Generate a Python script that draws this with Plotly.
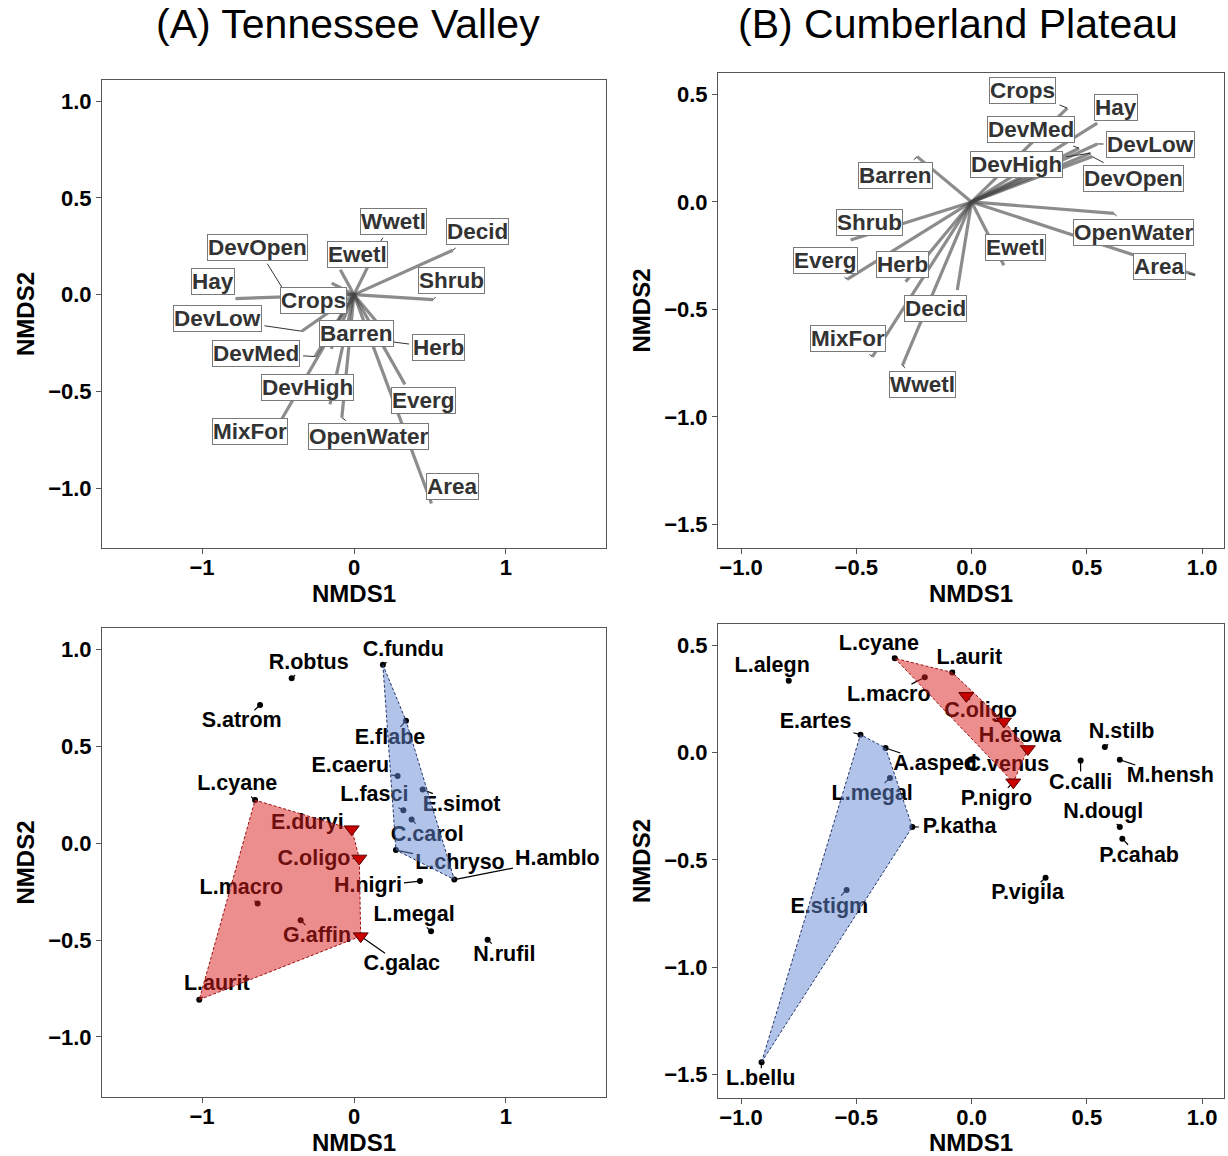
import plotly.graph_objects as go

FIG_W, FIG_H = 1228, 1156
FONT = "Liberation Sans, Arial, Helvetica, sans-serif"

# ---------------- DATA ----------------
# (A) Tennessee Valley - environmental vectors (endpoint) and label positions
envA_names = ["Decid", "Shrub", "Wwetl", "Ewetl", "DevOpen", "Hay", "Crops", "DevLow",
              "Barren", "Herb", "DevMed", "DevHigh", "MixFor", "OpenWater", "Everg", "Area"]
envA_x = [0.65, 0.52, 0.17, -0.09, -0.465, -0.78, -0.147, -0.344,
          -0.15, 0.26, -0.257, -0.158, -0.476, -0.08, 0.335, 0.51]
envA_y = [0.23, -0.026, 0.27, 0.129, 0.026, -0.02, 0.06, -0.189,
          -0.28, -0.245, -0.32, -0.567, -0.644, -0.636, -0.464, -1.08]
envA_lx = [0.811, 0.64, 0.261, 0.02, -0.636, -0.925, -0.265, -0.899,
           0.015, 0.557, -0.645, -0.305, -0.682, 0.096, 0.456, 0.645]
envA_ly = [0.325, 0.072, 0.378, 0.206, 0.244, 0.069, -0.031, -0.125,
           -0.199, -0.275, -0.302, -0.481, -0.71, -0.735, -0.545, -0.99]

# (B) Cumberland Plateau - environmental vectors
envB_names = ["Crops", "Hay", "DevMed", "DevLow", "DevHigh", "DevOpen", "Barren", "Shrub",
              "Everg", "Herb", "Ewetl", "OpenWater", "Area", "Decid", "MixFor", "Wwetl"]
envB_x = [0.415, 0.545, 0.466, 0.545, 0.516, 0.524, -0.236, -0.525,
          -0.54, -0.286, 0.14, 0.617, 0.97, -0.062, -0.43, -0.30]
envB_y = [0.437, 0.367, 0.25, 0.27, 0.227, 0.211, 0.211, -0.177,
          -0.36, -0.371, -0.294, -0.053, -0.34, -0.41, -0.72, -0.76]
envB_lx = [0.223, 0.625, 0.259, 0.777, 0.194, 0.703, -0.33, -0.444,
           -0.635, -0.301, 0.191, 0.704, 0.816, -0.155, -0.538, -0.213]
envB_ly = [0.519, 0.441, 0.336, 0.266, 0.176, 0.107, 0.121, -0.095,
           -0.274, -0.289, -0.211, -0.141, -0.301, -0.494, -0.634, -0.848]

# (A) species scores
spA_names = ["C.fundu", "R.obtus", "S.atrom", "E.flabe", "E.caeru", "L.fasci", "E.simot",
             "C.carol", "L.chryso", "H.amblo", "L.cyane", "E.duryi", "C.oligo", "L.macro",
             "G.affin", "C.galac", "L.aurit", "H.nigri", "L.megal", "N.rufil"]
spA_x = [0.19, -0.41, -0.618, 0.342, 0.287, 0.325, 0.452, 0.379, 0.276, 0.66,
         -0.651, -0.015, 0.035, -0.634, -0.351, 0.044, -1.018, 0.434, 0.507, 0.879]
spA_y = [0.92, 0.851, 0.713, 0.632, 0.346, 0.17, 0.277, 0.122, -0.036, -0.188,
         0.222, 0.072, -0.079, -0.312, -0.398, -0.48, -0.808, -0.196, -0.455, -0.498]
spA_lx = [0.324, -0.298, -0.739, 0.237, -0.024, 0.134, 0.708, 0.482, 0.697, 1.338,
          -0.768, -0.307, -0.263, -0.741, -0.243, 0.314, -0.903, 0.092, 0.395, 0.989]
spA_ly = [0.994, 0.927, 0.625, 0.539, 0.393, 0.243, 0.195, 0.04, -0.105, -0.084,
          0.30, 0.102, -0.084, -0.236, -0.484, -0.629, -0.732, -0.227, -0.374, -0.579]
spA_group = ["G2", "", "", "G2", "G2", "G2", "G2", "G2", "G2", "G2",
             "G1", "G1", "G1", "G1", "G1", "G1", "G1", "", "", ""]
spA_shape = ["o", "o", "o", "o", "o", "o", "o", "o", "o", "o",
             "o", "v", "v", "o", "o", "v", "o", "o", "o", "o"]

# (B) species scores
spB_names = ["L.alegn", "L.cyane", "L.aurit", "L.macro", "C.oligo", "E.artes", "H.etowa",
             "N.stilb", "A.asped", "C.venus", "", "C.calli", "M.hensh", "L.megal", "P.nigro",
             "N.dougl", "P.katha", "P.cahab", "P.vigila", "E.stigm", "L.bellu"]
spB_x = [-0.793, -0.333, -0.084, -0.203, -0.023, -0.482, 0.14, 0.578, -0.373, -0.004,
         0.244, 0.473, 0.643, -0.354, 0.181, 0.643, -0.257, 0.654, 0.321, -0.542, -0.911]
spB_y = [0.335, 0.44, 0.374, 0.352, 0.265, 0.084, 0.146, 0.026, 0.022, -0.033,
         0.017, -0.037, -0.033, -0.118, -0.138, -0.346, -0.346, -0.401, -0.583, -0.64, -1.443]
spB_lx = [-0.865, -0.402, -0.01, -0.359, 0.039, -0.677, 0.21, 0.651, -0.158, 0.155,
          None, 0.473, 0.862, -0.431, 0.108, 0.571, -0.052, 0.727, 0.243, -0.617, -0.915]
spB_ly = [0.40, 0.506, 0.439, 0.265, 0.191, 0.14, 0.076, 0.094, -0.056, -0.06,
          None, -0.143, -0.112, -0.197, -0.219, -0.278, -0.349, -0.484, -0.659, -0.721, -1.526]
spB_group = ["", "G1", "G1", "G1", "G1", "G2", "G1", "", "G2", "", "G1", "", "", "G2", "G1",
             "", "G2", "", "", "G2", "G2"]
spB_shape = ["o", "o", "o", "o", "v", "o", "v", "o", "o", "o", "v", "o", "o", "o", "v",
             "o", "o", "o", "o", "o", "o"]

titles = ["(A) Tennessee Valley", "(B) Cumberland Plateau"]

# ---------------- LAYOUT GEOMETRY ----------------
panels = {
    "A_top": dict(px=(102, 606, 80, 548), xr=(-1.658, 1.658), yr=(-1.31, 1.11), xa="x", ya="y"),
    "B_top": dict(px=(718, 1224, 73, 548), xr=(-1.10, 1.095), yr=(-1.61, 0.60), xa="x2", ya="y2"),
    "A_bot": dict(px=(102, 606, 628, 1097), xr=(-1.658, 1.658), yr=(-1.31, 1.11), xa="x3", ya="y3"),
    "B_bot": dict(px=(718, 1224, 624, 1098), xr=(-1.10, 1.095), yr=(-1.61, 0.60), xa="x4", ya="y4"),
}
for p in panels.values():
    l, r, t, b = p["px"]
    p["sx"] = (r - l) / (p["xr"][1] - p["xr"][0])
    p["sy"] = (b - t) / (p["yr"][1] - p["yr"][0])

CW = {'A': .722, 'B': .722, 'C': .722, 'D': .722, 'E': .667, 'F': .611, 'G': .778, 'H': .722,
      'I': .278, 'L': .611, 'M': .833, 'N': .722, 'O': .778, 'P': .667, 'R': .722, 'S': .667,
      'W': .944, 'a': .556, 'b': .611, 'c': .556, 'd': .611, 'e': .556, 'f': .333, 'g': .611,
      'h': .611, 'i': .278, 'l': .278, 'm': .889, 'n': .611, 'o': .611, 'p': .611, 'r': .389,
      's': .556, 't': .333, 'u': .611, 'v': .556, 'w': .778, 'x': .556, 'y': .556, '.': .278}


def text_w(s, fs):
    return sum(CW.get(c, 0.6) for c in s) * fs


def connectors(p, xs, ys, lxs, lys, names, fs, pad_w, pad_h):
    """Segments from anchor point to the edge of its label box (repel-style)."""
    sx, sy = p["sx"], p["sy"]
    X, Y = [], []
    for x, y, lx, ly, n in zip(xs, ys, lxs, lys, names):
        if lx is None or not n:
            continue
        hw = text_w(n, fs) / 2 + pad_w
        hh = fs * 0.5 + pad_h
        dx, dy = (x - lx) * sx, (y - ly) * sy
        if abs(dx) <= hw and abs(dy) <= hh:
            continue
        t = min(hw / abs(dx) if dx else 1e9, hh / abs(dy) if dy else 1e9)
        ex, ey = lx + (dx * t) / sx, ly + (dy * t) / sy
        if ((x - ex) * sx) ** 2 + ((y - ey) * sy) ** 2 < 9:
            continue
        X += [x, ex, None]
        Y += [y, ey, None]
    return X, Y


def convex_hull(pts):
    pts = sorted(set(pts))
    if len(pts) < 3:
        return pts

    def cross(o, a, b):
        return (a[0] - o[0]) * (b[1] - o[1]) - (a[1] - o[1]) * (b[0] - o[0])
    lower, upper = [], []
    for q in pts:
        while len(lower) >= 2 and cross(lower[-2], lower[-1], q) <= 0:
            lower.pop()
        lower.append(q)
    for q in reversed(pts):
        while len(upper) >= 2 and cross(upper[-2], upper[-1], q) <= 0:
            upper.pop()
        upper.append(q)
    return lower[:-1] + upper[:-1]


fig = go.Figure()
annotations = []

VEC_COLOR = "rgba(70,70,70,0.62)"
LBL_FS_TOP = 22.5
LBL_FS_BOT = 21.5

# ---------------- TOP PANELS: biplot vectors ----------------
for key, names, ex, ey, lx, ly in [("A_top", envA_names, envA_x, envA_y, envA_lx, envA_ly),
                                   ("B_top", envB_names, envB_x, envB_y, envB_lx, envB_ly)]:
    p = panels[key]
    vx, vy = [], []
    for x, y in zip(ex, ey):
        vx += [0, x, None]
        vy += [0, y, None]
    fig.add_trace(go.Scatter(x=vx, y=vy, mode="lines", xaxis=p["xa"], yaxis=p["ya"],
                             line=dict(color=VEC_COLOR, width=3.2), hoverinfo="skip",
                             showlegend=False))
    cx, cy = connectors(p, ex, ey, lx, ly, names, LBL_FS_TOP, 4, 5)
    fig.add_trace(go.Scatter(x=cx, y=cy, mode="lines", xaxis=p["xa"], yaxis=p["ya"],
                             line=dict(color="#333333", width=1), hoverinfo="skip",
                             showlegend=False))
    for n, x, y in zip(names, lx, ly):
        annotations.append(dict(
            text=n, x=x, y=y, xref=p["xa"], yref=p["ya"], showarrow=False,
            font=dict(family=FONT, size=LBL_FS_TOP, color="#333333", weight="bold"),
            bgcolor="white", bordercolor="#7a7a7a", borderwidth=1, borderpad=0,
            xanchor="center", yanchor="middle"))

# ---------------- BOTTOM PANELS: species + hulls ----------------
HULL_FILL = {"G1": "rgba(220,30,30,0.5)", "G2": "rgba(100,135,210,0.5)"}
HULL_LINE = {"G1": "#9a1010", "G2": "#23356b"}

for key, names, xs, ys, lxs, lys, grp, shp in [
        ("A_bot", spA_names, spA_x, spA_y, spA_lx, spA_ly, spA_group, spA_shape),
        ("B_bot", spB_names, spB_x, spB_y, spB_lx, spB_ly, spB_group, spB_shape)]:
    p = panels[key]
    cx, cy = connectors(p, xs, ys, lxs, lys, names, LBL_FS_BOT, 2, 1)
    fig.add_trace(go.Scatter(x=cx, y=cy, mode="lines", xaxis=p["xa"], yaxis=p["ya"],
                             line=dict(color="black", width=1.2), hoverinfo="skip",
                             showlegend=False))
    dx = [x for x, s in zip(xs, shp) if s == "o"]
    dy = [y for y, s in zip(ys, shp) if s == "o"]
    fig.add_trace(go.Scatter(x=dx, y=dy, mode="markers", xaxis=p["xa"], yaxis=p["ya"],
                             marker=dict(color="black", size=6), hoverinfo="skip",
                             showlegend=False))
    tl = [(n, a, b) for n, a, b in zip(names, lxs, lys) if n and a is not None]
    fig.add_trace(go.Scatter(x=[t[1] for t in tl], y=[t[2] for t in tl],
                             text=[t[0] for t in tl], mode="text",
                             xaxis=p["xa"], yaxis=p["ya"], cliponaxis=False,
                             textposition="middle center",
                             textfont=dict(family=FONT, size=LBL_FS_BOT, color="black",
                                           weight="bold"),
                             hoverinfo="skip", showlegend=False))
    for g in ["G1", "G2"]:
        pts = [(x, y) for x, y, gg in zip(xs, ys, grp) if gg == g]
        hull = convex_hull(pts)
        hx = [q[0] for q in hull] + [hull[0][0]]
        hy = [q[1] for q in hull] + [hull[0][1]]
        fig.add_trace(go.Scatter(x=hx, y=hy, mode="lines", fill="toself",
                                 fillcolor=HULL_FILL[g], xaxis=p["xa"], yaxis=p["ya"],
                                 line=dict(color=HULL_LINE[g], width=1, dash="3px,2px"),
                                 hoverinfo="skip", showlegend=False))
    tx = [x for x, s in zip(xs, shp) if s == "v"]
    ty = [y for y, s in zip(ys, shp) if s == "v"]
    fig.add_trace(go.Scatter(x=tx, y=ty, mode="markers", xaxis=p["xa"], yaxis=p["ya"],
                             marker=dict(symbol="triangle-down", color="#c80000", size=13,
                                         line=dict(color="#5a0000", width=1)),
                             hoverinfo="skip", showlegend=False))

# ---------------- AXES ----------------
tickfont = dict(family=FONT, size=22, color="black", weight="bold")
titlefont = dict(family=FONT, size=24, color="black", weight="bold")
axis_common = dict(showgrid=False, zeroline=False, showline=True, linecolor="#555555",
                   linewidth=1, mirror=True, ticks="outside", ticklen=5, tickwidth=1,
                   tickcolor="#555555", tickfont=tickfont, fixedrange=True)

layout_axes = {}
for i, key in enumerate(["A_top", "B_top", "A_bot", "B_bot"]):
    p = panels[key]
    l, r, t, b = p["px"]
    sfx = "" if i == 0 else str(i + 1)
    isA = key.startswith("A")
    xt = [-1, 0, 1] if isA else [-1, -0.5, 0, 0.5, 1]
    yt = [-1, -0.5, 0, 0.5, 1] if isA else [-1.5, -1, -0.5, 0, 0.5]
    layout_axes["xaxis" + sfx] = dict(
        axis_common, domain=[l / FIG_W, r / FIG_W], range=list(p["xr"]),
        anchor="y" + sfx, tickvals=xt, tickformat=("d" if isA else ".1f"),
        ticklabelstandoff=-5,
        title=dict(text="NMDS1", font=titlefont, standoff=0))
    layout_axes["yaxis" + sfx] = dict(
        axis_common, domain=[1 - b / FIG_H, 1 - t / FIG_H], range=list(p["yr"]),
        anchor="x" + sfx, tickvals=yt, tickformat=".1f",
        title=dict(text="NMDS2", font=titlefont, standoff=6))

annotations.append(dict(text=titles[0], x=348 / FIG_W, y=1 - 24 / FIG_H, xref="paper",
                        yref="paper", showarrow=False, xanchor="center", yanchor="middle",
                        font=dict(family=FONT, size=41, color="black")))
annotations.append(dict(text=titles[1], x=958 / FIG_W, y=1 - 24 / FIG_H, xref="paper",
                        yref="paper", showarrow=False, xanchor="center", yanchor="middle",
                        font=dict(family=FONT, size=41, color="black")))

fig.update_layout(width=FIG_W, height=FIG_H, autosize=False,
                  margin=dict(l=0, r=0, t=0, b=0),
                  paper_bgcolor="white", plot_bgcolor="white",
                  font=dict(family=FONT), annotations=annotations, **layout_axes)

fig.write_html("out.html", config={"displayModeBar": False},
               post_script="document.body.style.margin='0';document.body.style.overflow='hidden';")
